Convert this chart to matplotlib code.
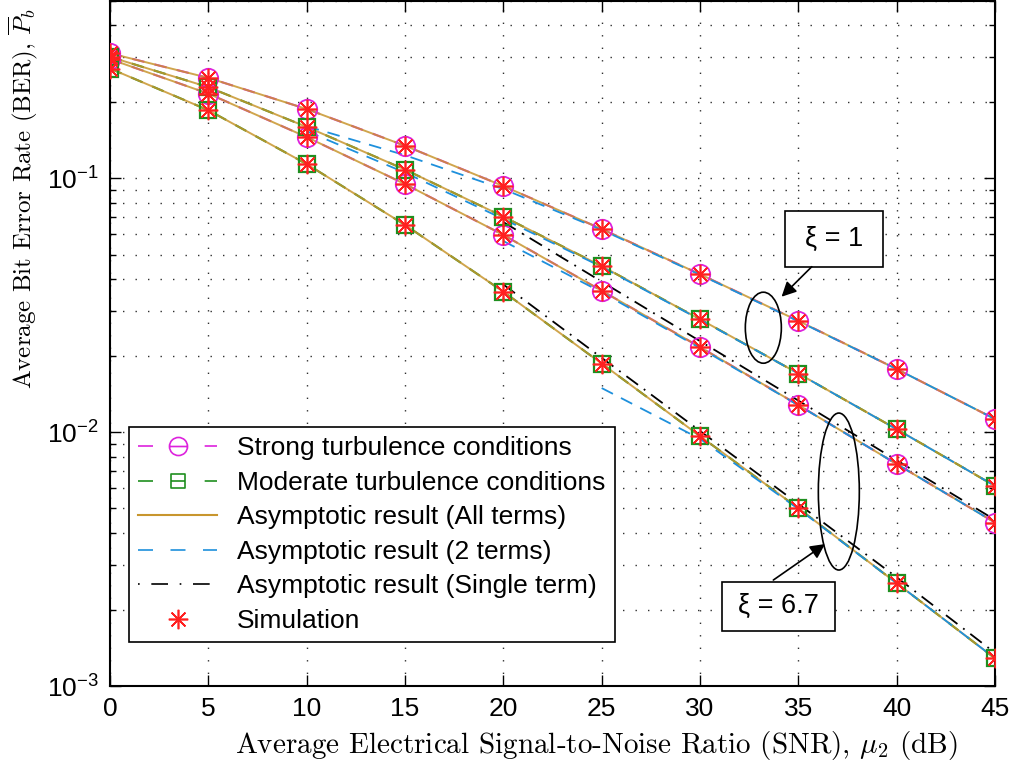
import math
import matplotlib
matplotlib.use('Agg')
import matplotlib.pyplot as plt
from matplotlib.patches import Ellipse, Rectangle
from matplotlib.lines import Line2D
from matplotlib.path import Path
from matplotlib.ticker import LogLocator, FixedLocator, FuncFormatter, NullFormatter

plt.rcParams['font.family'] = ['Liberation Sans', 'DejaVu Sans']
plt.rcParams['mathtext.fontset'] = 'cm'

# SNR points (dB)
snr = [0, 5, 10, 15, 20, 25, 30, 35, 40, 45]

# exact BER (simulation and all-terms asymptote coincide with these)
strong_xi1 = [0.31, 0.248, 0.187, 0.134, 0.093, 0.063, 0.0418, 0.0274, 0.0177, 0.01125]
moder_xi1 = [0.30, 0.228, 0.159, 0.108, 0.0705, 0.045, 0.0278, 0.0170, 0.01026, 0.00613]
strong_xi67 = [0.294, 0.215, 0.145, 0.0947, 0.0597, 0.036, 0.0216, 0.01277, 0.00748, 0.0044]
moder_xi67 = [0.27, 0.185, 0.1135, 0.0654, 0.0357, 0.0186, 0.00964, 0.00501, 0.00254, 0.001285]

# asymptotic, 2 terms
snr_2t_xi1 = [10, 15, 20, 25, 30, 35, 40, 45]
two_strong_xi1 = [0.160, 0.123, 0.0905, 0.0625, 0.0416, 0.0273, 0.0177, 0.01125]
two_moder_xi1 = [0.153, 0.105, 0.069, 0.0447, 0.0277, 0.0170, 0.01025, 0.00613]
snr_2t_s67 = [20, 25, 30, 35, 40, 45]
two_strong_xi67 = [0.0565, 0.0355, 0.0214, 0.01275, 0.00748, 0.0044]
snr_2t_m67 = [25, 30, 35, 40, 45]
two_moder_xi67 = [0.0149, 0.0094, 0.00498, 0.00254, 0.001285]

# asymptotic, single term
snr_1t = [20, 25, 30, 35, 40, 45]
one_strong_xi67 = [0.0671, 0.0391, 0.0228, 0.0133, 0.00774, 0.00451]
one_moder_xi67 = [0.0381, 0.0196, 0.0101, 0.00521, 0.00268, 0.00135]

c_mag = '#dd22dd'
c_grn = '#1f8f1f'
c_gold = '#c8962e'
c_blue = '#1e90dc'
c_red = '#ff2020'
ast = (8, 2, 0)

# legend markers with the line running through them
bar = Path([[-1, 0], [1, 0]], [Path.MOVETO, Path.LINETO])
circ_bar = Path.make_compound_path(Path.unit_circle(), bar)
sq = Path([[-1, -1], [1, -1], [1, 1], [-1, 1], [-1, -1]],
          [Path.MOVETO, Path.LINETO, Path.LINETO, Path.LINETO, Path.CLOSEPOLY])
sq_bar = Path.make_compound_path(sq, bar)

fig = plt.figure(figsize=(10.14, 7.63), dpi=100)
ax = fig.add_axes([0.1085, 0.1009, 0.8728, 0.8984])

exact_dash = (0, (6, 5))
for y in [strong_xi1, strong_xi67]:
    ax.plot(snr, y, color=c_mag, ls=exact_dash, lw=1.5, zorder=2)
for y in [moder_xi1, moder_xi67]:
    ax.plot(snr, y, color=c_grn, ls=exact_dash, lw=1.5, zorder=2)

for y in [strong_xi1, moder_xi1, strong_xi67, moder_xi67]:
    ax.plot(snr, y, color=c_gold, lw=1.4, alpha=0.85, zorder=3)

blue_dash = (0, (7, 5))
ax.plot(snr_2t_xi1, two_strong_xi1, color=c_blue, ls=blue_dash, lw=1.3, zorder=4)
ax.plot(snr_2t_xi1, two_moder_xi1, color=c_blue, ls=blue_dash, lw=1.3, zorder=4)
ax.plot(snr_2t_s67, two_strong_xi67, color=c_blue, ls=blue_dash, lw=1.3, zorder=4)
ax.plot(snr_2t_m67, two_moder_xi67, color=c_blue, ls=blue_dash, lw=1.3, zorder=4)

dashdot = (0, (8, 4, 1, 4))
ax.plot(snr_1t, one_strong_xi67, color='k', ls=dashdot, lw=1.3, zorder=4)
ax.plot(snr_1t, one_moder_xi67, color='k', ls=dashdot, lw=1.3, zorder=4)

for y in [strong_xi1, strong_xi67]:
    ax.plot(snr, y, ls='none', marker='o', ms=14, mfc='none', mec=c_mag, mew=1.3, zorder=5)
for y in [moder_xi1, moder_xi67]:
    ax.plot(snr, y, ls='none', marker='s', ms=11, mfc='none', mec=c_grn, mew=1.6, zorder=5)
for y in [strong_xi1, moder_xi1, strong_xi67, moder_xi67]:
    ax.plot(snr, y, ls='none', marker=ast, ms=14, mec=c_red, mew=1.2, zorder=6)

ax.set_yscale('log')
ax.set_xlim(0, 45)
ax.set_ylim(1e-3, 0.5)
ax.set_xticks(range(0, 46, 5))
ax.yaxis.set_major_locator(FixedLocator([1e-3, 1e-2, 1e-1]))
ax.yaxis.set_minor_locator(LogLocator(base=10, subs=range(2, 10)))
ax.yaxis.set_minor_formatter(NullFormatter())
ax.yaxis.set_major_formatter(FuncFormatter(
    lambda v, p: r'$\mathregular{10^{%d}}$' % round(math.log10(v))))

ax.tick_params(which='both', direction='in', top=True, right=True, labelsize=19, width=1)
ax.tick_params(which='major', length=8, pad=8)
ax.tick_params(which='minor', length=4)
for s in ax.spines.values():
    s.set_linewidth(1.5)

grid_ls = (0, (1, 8))
ax.grid(True, which='major', axis='both', ls=grid_ls, color='#303030', lw=1.0)
ax.grid(True, which='minor', axis='y', ls=grid_ls, color='#303030', lw=1.0)

ax.set_xlabel(r'Average Electrical Signal-to-Noise Ratio (SNR), $\mu_2$ (dB)',
              fontfamily='cmr10', fontsize=21)
ax.set_ylabel(r'Average Bit Error Rate (BER), $\overline{P}_b$',
              fontfamily='cmr10', fontsize=18)
ax.xaxis.set_label_coords(0.549, -0.062)
ax.yaxis.set_label_coords(-0.079, 0.712)

handles = [
    Line2D([], [], color=c_mag, ls=(0, (9, 31)), lw=1.2, marker=circ_bar, ms=13, mfc='none', mec=c_mag, mew=1.2),
    Line2D([], [], color=c_grn, ls=(0, (9, 31)), lw=1.2, marker=sq_bar, ms=10, mfc='none', mec=c_grn, mew=1.2),
    Line2D([], [], color=c_gold, lw=1.5),
    Line2D([], [], color=c_blue, ls=(0, (9, 10.5)), lw=1.2),
    Line2D([], [], color='k', ls=(0, (1, 7, 10, 7)), lw=1.2),
    Line2D([], [], ls='none', marker=ast, ms=14, mec=c_red, mew=1.2),
]
labels = ['Strong turbulence conditions', 'Moderate turbulence conditions',
          'Asymptotic result (All terms)', 'Asymptotic result (2 terms)',
          'Asymptotic result (Single term)', 'Simulation']
leg = ax.legend(handles, labels, loc='upper left', bbox_to_anchor=(0.0215, 0.3778),
                borderaxespad=0, fontsize=19, handlelength=3.0, handletextpad=0.75,
                labelspacing=0.4, borderpad=0.35, fancybox=False, framealpha=1,
                edgecolor='k', numpoints=1)
leg.get_frame().set_linewidth(1.2)
leg.set_zorder(10)

# annotations
ax.add_patch(Rectangle((0.7627, 0.6112), 0.1107, 0.0817, transform=ax.transAxes,
                       fc='white', ec='k', lw=1.2, zorder=11))
ax.text(0.8181, 0.6521, 'ξ = 1', transform=ax.transAxes, ha='center', va='center',
        fontsize=19.5, zorder=12)
ax.annotate('', xy=(0.7588, 0.5679), xytext=(0.7929, 0.6117), xycoords='axes fraction',
            arrowprops=dict(arrowstyle='-|>', mutation_scale=22, lw=1.2, color='k',
                            shrinkA=0, shrinkB=0), zorder=12)
ax.add_patch(Ellipse((0.7382, 0.5227), 0.0407, 0.1036, transform=ax.transAxes,
                     fill=False, ec='k', lw=1.2, zorder=11))

ax.add_patch(Rectangle((0.6912, 0.0807), 0.128, 0.0715, transform=ax.transAxes,
                       fc='white', ec='k', lw=1.2, zorder=11))
ax.text(0.7548, 0.1167, 'ξ = 6.7', transform=ax.transAxes, ha='center', va='center',
        fontsize=19.5, zorder=12)
ax.annotate('', xy=(0.8079, 0.2071), xytext=(0.7495, 0.1546), xycoords='axes fraction',
            arrowprops=dict(arrowstyle='-|>', mutation_scale=22, lw=1.2, color='k',
                            shrinkA=0, shrinkB=0), zorder=12)
ax.add_patch(Ellipse((0.8235, 0.2837), 0.0463, 0.229, transform=ax.transAxes,
                     fill=False, ec='k', lw=1.2, zorder=11))

fig.savefig('out.png', dpi=100)
